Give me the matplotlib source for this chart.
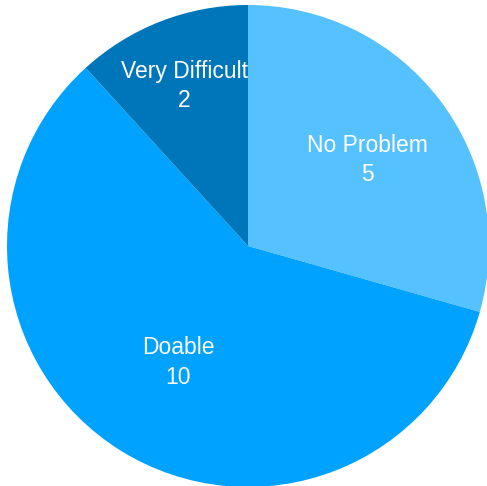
import numpy as np
import matplotlib.pyplot as plt

labels = ["No Problem", "Doable", "Very Difficult"]
counts = [5, 10, 2]
colors = ["#56C1FF", "#00A2FF", "#0076BA"]
label_dist = [0.62, 0.55, 0.73]

plt.rcParams['font.family'] = ['Liberation Sans', 'DejaVu Sans']

fig = plt.figure(figsize=(4.87, 4.86), dpi=100)
ax = fig.add_axes([0, 0, 1, 1])

wedges, _ = ax.pie(counts, colors=colors, startangle=90, counterclock=False,
                   radius=1.0, wedgeprops=dict(linewidth=0))

# Labels with name and value, placed along each wedge's middle angle
for w, name, n, d in zip(wedges, labels, counts, label_dist):
    ang = np.deg2rad((w.theta1 + w.theta2) / 2)
    t = ax.text(d * np.cos(ang), d * np.sin(ang) - 0.016, f"{name}\n{n}",
                ha='center', va='center', color='white', fontsize=16.5,
                linespacing=1.35)
    t.set_clip_path(w)

ax.set_xlim(-248 / 241, 239 / 241)
ax.set_ylim(-240 / 241, 246 / 241)
ax.set_aspect('auto')
ax.axis('off')

fig.savefig("out.png", dpi=100)
